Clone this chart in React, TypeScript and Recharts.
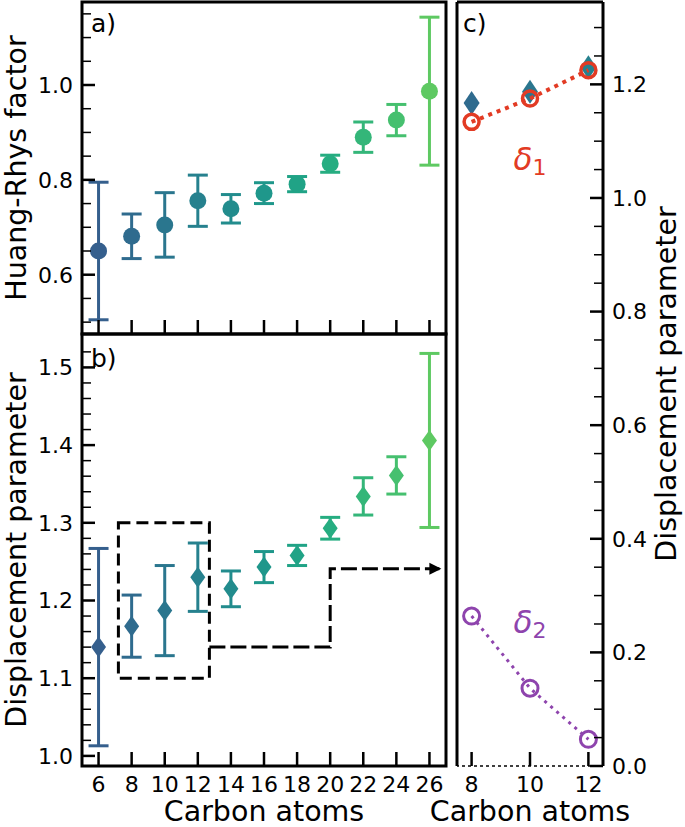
import React from 'react';
import {
  ScatterChart,
  Scatter,
  XAxis,
  YAxis,
  ErrorBar,
  ReferenceArea,
  ReferenceLine,
  ReferenceDot,
  Label,
} from 'recharts';

// ---------- data ----------
const carbonAtoms = [6, 8, 10, 12, 14, 16, 18, 20, 22, 24, 26];
const huangRhys = [0.65, 0.681, 0.705, 0.756, 0.739, 0.772, 0.791, 0.834, 0.89, 0.926, 0.987];
const huangRhysErr = [0.145, 0.047, 0.068, 0.054, 0.03, 0.022, 0.016, 0.018, 0.032, 0.033, 0.156];
const displacement = [1.14, 1.167, 1.187, 1.23, 1.215, 1.243, 1.258, 1.293, 1.334, 1.361, 1.406];
const displacementErr = [0.127, 0.04, 0.058, 0.044, 0.023, 0.02, 0.013, 0.014, 0.024, 0.024, 0.112];
const pointColors = [
  '#355f8d', '#2f6b8e', '#2a768e', '#26818e', '#228c8d', '#1f978b',
  '#20a386', '#26ad81', '#34b679', '#46c06f', '#5ec962',
];

const zoomCarbons = [8, 10, 12];
const zoomColors = ['#2f6b8e', '#2a768e', '#26818e'];
const delta1 = [1.134, 1.175, 1.225];
const delta2 = [0.264, 0.137, 0.047];

const xTicksMain = [6, 8, 10, 12, 14, 16, 18, 20, 22, 24, 26];
const xTicksZoom = [8, 10, 12];
const yTicksA = [0.5, 0.55, 0.6, 0.65, 0.7, 0.75, 0.8, 0.85, 0.9, 0.95, 1.0, 1.05, 1.1, 1.15];
const yMajorsA = [0.6, 0.8, 1.0];
const yTicksB = [
  1.0, 1.02, 1.04, 1.06, 1.08, 1.1, 1.12, 1.14, 1.16, 1.18, 1.2, 1.22, 1.24, 1.26,
  1.28, 1.3, 1.32, 1.34, 1.36, 1.38, 1.4, 1.42, 1.44, 1.46, 1.48, 1.5, 1.52,
];
const yMajorsB = [1.0, 1.1, 1.2, 1.3, 1.4, 1.5];
const yTicksC = [
  0, 0.05, 0.1, 0.15, 0.2, 0.25, 0.3, 0.35, 0.4, 0.45, 0.5, 0.55, 0.6, 0.65,
  0.7, 0.75, 0.8, 0.85, 0.9, 0.95, 1.0, 1.05, 1.1, 1.15, 1.2, 1.25, 1.3,
];
const yMajorsC = [0, 0.2, 0.4, 0.6, 0.8, 1.0, 1.2];

const domainX: [number, number] = [5, 27];
const domainA: [number, number] = [0.475, 1.175];
const domainB: [number, number] = [0.987, 1.543];
const domainXC: [number, number] = [7.5, 12.5];
const domainC: [number, number] = [0, 1.345];

const boxX = [7.2, 12.7];
const boxY = [1.1, 1.3];
const arrowX = [12.7, 20, 20, 26.6];
const arrowY = [1.14, 1.14, 1.241, 1.241];

const delta1Label = { x: 10, y: 1.05 };
const delta2Label = { x: 10, y: 0.234 };

const RED = '#e23b24';
const PURPLE = '#8e44ad';

// ---------- derived tables ----------
const hrData = carbonAtoms.map((c, i) => ({ x: c, y: huangRhys[i], err: huangRhysErr[i] }));
const dispData = carbonAtoms.map((c, i) => ({ x: c, y: displacement[i], err: displacementErr[i] }));
const zoomDisp = zoomCarbons.map((c) => ({ x: c, y: displacement[carbonAtoms.indexOf(c)] }));
const delta1Data = zoomCarbons.map((c, i) => ({ x: c, y: delta1[i] }));
const delta2Data = zoomCarbons.map((c, i) => ({ x: c, y: delta2[i] }));
const arrowData = arrowX.map((x, i) => ({ x, y: arrowY[i] }));

const W = 685;
const H = 827;
const TICK_FONT = 22;
const TITLE_FONT = 28.5;

const isMajor = (majors: number[], v: number) => majors.some((m) => Math.abs(m - v) < 1e-6);

function makeLeftTick(majors: number[]) {
  return (props: any) => {
    const { x, y, payload } = props;
    const v = payload.value;
    const major = isMajor(majors, v);
    return (
      <g>
        <line x1={x} x2={x + (major ? 13 : 9)} y1={y} y2={y} stroke="#000" strokeWidth={major ? 2.5 : 1.5} />
        {major ? (
          <text x={x - 9} y={y} dy="0.36em" textAnchor="end" fontSize={TICK_FONT} fill="#000">
            {v.toFixed(1)}
          </text>
        ) : null}
      </g>
    );
  };
}

function makeRightTick(majors: number[]) {
  return (props: any) => {
    const { x, y, payload } = props;
    const v = payload.value;
    const major = isMajor(majors, v);
    return (
      <g>
        <line x1={x} x2={x - (major ? 13 : 9)} y1={y} y2={y} stroke="#000" strokeWidth={major ? 2.5 : 1.5} />
        {major ? (
          <text x={x + 9} y={y} dy="0.36em" textAnchor="start" fontSize={TICK_FONT} fill="#000">
            {v.toFixed(1)}
          </text>
        ) : null}
      </g>
    );
  };
}

function makeBottomTick(showLabel: boolean) {
  return (props: any) => {
    const { x, y, payload } = props;
    return (
      <g>
        <line x1={x} x2={x} y1={y} y2={y - 14} stroke="#000" strokeWidth={2.5} />
        {showLabel ? (
          <text x={x} y={y + 26} textAnchor="middle" fontSize={TICK_FONT} fill="#000">
            {payload.value}
          </text>
        ) : null}
      </g>
    );
  };
}

const LeftTitle = (props: any) => {
  const { viewBox, value } = props;
  const cx = viewBox.x + 26;
  const cy = viewBox.y + viewBox.height / 2;
  return (
    <text x={cx} y={cy} transform={`rotate(-90 ${cx} ${cy})`} textAnchor="middle" fontSize={TITLE_FONT} fill="#000">
      {value}
    </text>
  );
};

const RightTitle = (props: any) => {
  const { viewBox, value } = props;
  const cx = viewBox.x + 73;
  const cy = viewBox.y + viewBox.height / 2;
  return (
    <text x={cx} y={cy} transform={`rotate(-90 ${cx} ${cy})`} textAnchor="middle" fontSize={TITLE_FONT} fill="#000">
      {value}
    </text>
  );
};

const BottomTitle = (props: any) => {
  const { viewBox, value } = props;
  const cx = viewBox.x + viewBox.width / 2;
  const cy = viewBox.y + 55;
  return (
    <text x={cx} y={cy} textAnchor="middle" fontSize={TITLE_FONT} fill="#000">
      {value}
    </text>
  );
};

const panelLabel = (text: string, dx: number, dy: number) => (p: any) => (
  <text x={p.cx + dx} y={p.cy + dy} fontSize={25} fill="#000">
    {text}
  </text>
);

const deltaLabel = (sub: string, color: string) => (p: any) => (
  <text x={p.cx} y={p.cy} textAnchor="middle" fill={color}>
    <tspan fontSize={31} fontStyle="italic">δ</tspan>
    <tspan fontSize={22} dy={5}>{sub}</tspan>
  </text>
);

const circleShape = (color: string) => (p: any) => <circle cx={p.cx} cy={p.cy} r={8.5} fill={color} />;
const diamondShape = (color: string, hw: number, hh: number) => (p: any) => (
  <polygon
    points={`${p.cx},${p.cy - hh} ${p.cx + hw},${p.cy} ${p.cx},${p.cy + hh} ${p.cx - hw},${p.cy}`}
    fill={color}
  />
);
const ringShape = (color: string, r: number, sw: number) => (p: any) => (
  <circle cx={p.cx} cy={p.cy} r={r} fill="none" stroke={color} strokeWidth={sw} />
);
const arrowShape = (p: any) => {
  const last = arrowData[arrowData.length - 1];
  if (!p.payload || p.payload.x !== last.x || p.payload.y !== last.y) return <g />;
  return <polygon points={`${p.cx + 2},${p.cy} ${p.cx - 10},${p.cy - 6} ${p.cx - 10},${p.cy + 6}`} fill="#000" />;
};

const layer: React.CSSProperties = { position: 'absolute', left: 0, top: 0 };

function PanelA() {
  return (
    <div style={layer}>
      <ScatterChart width={W} height={H} margin={{ top: 2, right: 239, bottom: 0, left: 0 }}>
        <XAxis type="number" dataKey="x" domain={domainX} ticks={xTicksMain} interval={0} height={493}
          axisLine={false} tickLine={false} tickSize={0} tickMargin={0} tick={makeBottomTick(false)} />
        <YAxis type="number" dataKey="y" domain={domainA} ticks={yTicksA} interval={0} width={82}
          axisLine={false} tickLine={false} tickSize={0} tickMargin={0} tick={makeLeftTick(yMajorsA)}>
          <Label value="Huang-Rhys factor" content={LeftTitle} />
        </YAxis>
        <ReferenceArea x1={domainX[0]} x2={domainX[1]} y1={domainA[0]} y2={domainA[1]}
          fill="none" fillOpacity={0} stroke="#000" strokeWidth={3} />
        {hrData.map((d, i) => (
          <Scatter key={i} data={[d]} fill={pointColors[i]} shape={circleShape(pointColors[i])} isAnimationActive={false}>
            <ErrorBar dataKey="err" direction="y" width={10} strokeWidth={3} stroke={pointColors[i]} />
          </Scatter>
        ))}
        <ReferenceDot x={domainX[0]} y={domainA[1]} r={1} shape={panelLabel('a)', 9, 30)} />
      </ScatterChart>
    </div>
  );
}

function PanelB() {
  return (
    <div style={layer}>
      <ScatterChart width={W} height={H} margin={{ top: 334, right: 239, bottom: 0, left: 0 }}>
        <XAxis type="number" dataKey="x" domain={domainX} ticks={xTicksMain} interval={0} height={61}
          axisLine={false} tickLine={false} tickSize={0} tickMargin={0} tick={makeBottomTick(true)}>
          <Label value="Carbon atoms" content={BottomTitle} />
        </XAxis>
        <YAxis type="number" dataKey="y" domain={domainB} ticks={yTicksB} interval={0} width={82}
          axisLine={false} tickLine={false} tickSize={0} tickMargin={0} tick={makeLeftTick(yMajorsB)}>
          <Label value="Displacement parameter" content={LeftTitle} />
        </YAxis>
        <ReferenceArea x1={domainX[0]} x2={domainX[1]} y1={domainB[0]} y2={domainB[1]}
          fill="none" fillOpacity={0} stroke="#000" strokeWidth={3} />
        {dispData.map((d, i) => (
          <Scatter key={i} data={[d]} fill={pointColors[i]} shape={diamondShape(pointColors[i], 7.5, 10.5)} isAnimationActive={false}>
            <ErrorBar dataKey="err" direction="y" width={10} strokeWidth={3} stroke={pointColors[i]} />
          </Scatter>
        ))}
        <ReferenceArea x1={boxX[0]} x2={boxX[1]} y1={boxY[0]} y2={boxY[1]}
          fill="none" fillOpacity={0} stroke="#000" strokeWidth={3} strokeDasharray="12 6" />
        <Scatter data={arrowData} shape={arrowShape} isAnimationActive={false}
          line={{ stroke: '#000', strokeWidth: 3, strokeDasharray: '16 5' }} />
        <ReferenceDot x={domainX[0]} y={domainB[1]} r={1} shape={panelLabel('b)', 9, 33)} />
      </ScatterChart>
    </div>
  );
}

function PanelC() {
  return (
    <div style={layer}>
      <ScatterChart width={W} height={H} margin={{ top: 2, right: 0, bottom: 0, left: 457 }}>
        <XAxis type="number" dataKey="x" domain={domainXC} ticks={xTicksZoom} interval={0} height={61}
          axisLine={false} tickLine={false} tickSize={0} tickMargin={0} tick={makeBottomTick(true)}>
          <Label value="Carbon atoms" content={BottomTitle} />
        </XAxis>
        <YAxis type="number" dataKey="y" orientation="right" domain={domainC} ticks={yTicksC} interval={0} width={82}
          axisLine={false} tickLine={false} tickSize={0} tickMargin={0} tick={makeRightTick(yMajorsC)}>
          <Label value="Displacement parameter" content={RightTitle} />
        </YAxis>
        <ReferenceLine x={domainXC[0]} stroke="#000" strokeWidth={3} />
        <ReferenceLine x={domainXC[1]} stroke="#000" strokeWidth={3} />
        <ReferenceLine y={domainC[1]} stroke="#000" strokeWidth={3} />
        <ReferenceLine y={domainC[0]} stroke="#000" strokeWidth={1.5} strokeDasharray="3 3" />
        {zoomDisp.map((d, i) => (
          <Scatter key={i} data={[d]} fill={zoomColors[i]} shape={diamondShape(zoomColors[i], 8, 12)} isAnimationActive={false} />
        ))}
        <Scatter data={delta1Data} shape={ringShape(RED, 7.5, 3.5)} isAnimationActive={false}
          line={{ stroke: RED, strokeWidth: 4, strokeDasharray: '4 5' }} />
        <Scatter data={delta2Data} shape={ringShape(PURPLE, 8, 3)} isAnimationActive={false}
          line={{ stroke: PURPLE, strokeWidth: 3, strokeDasharray: '3 5' }} />
        <ReferenceDot x={delta1Label.x} y={delta1Label.y} r={1} shape={deltaLabel('1', RED)} />
        <ReferenceDot x={delta2Label.x} y={delta2Label.y} r={1} shape={deltaLabel('2', PURPLE)} />
        <ReferenceDot x={domainXC[0]} y={domainC[1]} r={1} shape={panelLabel('c)', 6, 30)} />
      </ScatterChart>
    </div>
  );
}

export default function App() {
  return (
    <div
      style={{
        position: 'absolute',
        left: 0,
        top: 0,
        width: W,
        height: H,
        background: '#fff',
        fontFamily: '"DejaVu Sans", sans-serif',
        overflow: 'hidden',
      }}
    >
      <PanelA />
      <PanelB />
      <PanelC />
    </div>
  );
}
